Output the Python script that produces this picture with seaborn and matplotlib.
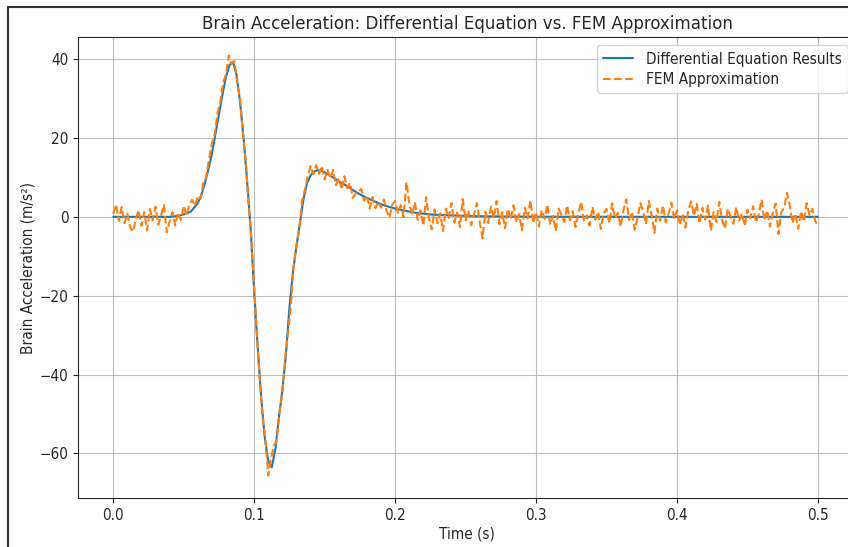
import numpy as np
import pandas as pd
import matplotlib
matplotlib.use("Agg")
import matplotlib.pyplot as plt
from matplotlib.lines import Line2D
import seaborn as sns

# Differential equation (smooth) solution
de_time = [0.000, 0.010, 0.020, 0.030, 0.040, 0.045, 0.050, 0.055, 0.060, 0.0625,
           0.065, 0.0675, 0.070, 0.0725, 0.075, 0.0775, 0.080, 0.0825, 0.085, 0.0875,
           0.090, 0.0925, 0.095, 0.0975, 0.100, 0.1025, 0.105, 0.1075, 0.110, 0.1125,
           0.115, 0.1175, 0.120, 0.1225, 0.125, 0.1275, 0.130, 0.1325, 0.135, 0.1375,
           0.140, 0.1425, 0.145, 0.1475, 0.150, 0.155, 0.160, 0.165, 0.170, 0.175,
           0.180, 0.185, 0.190, 0.195, 0.200, 0.205, 0.210, 0.215, 0.220, 0.225,
           0.230, 0.240, 0.250, 0.260, 0.280, 0.300, 0.350, 0.400, 0.450, 0.500]
de_accel = [0.0, 0.0, 0.0, 0.0, 0.0, 0.2, 0.6, 1.3, 3.5, 5.5,
            8.5, 12.0, 16.0, 21.0, 26.0, 31.0, 35.5, 38.5, 39.3, 36.0,
            29.0, 20.0, 9.0, -3.0, -19.0, -33.0, -46.0, -56.0, -62.0, -63.5,
            -59.0, -51.0, -44.0, -35.0, -23.0, -14.0, -7.5, -1.5, 4.5, 8.5,
            10.5, 11.5, 11.8, 11.7, 11.3, 10.2, 9.0, 8.0, 6.8, 5.7,
            4.8, 4.0, 3.2, 2.6, 2.1, 1.7, 1.3, 1.0, 0.8, 0.6,
            0.5, 0.35, 0.25, 0.15, 0.07, 0.03, 0.01, 0.0, 0.0, 0.0]

# FEM approximation, sampled every 0.002 s
fem_step = 0.002
fem_accel = [
    0.7, 3.1, -1.0, 2.5, -1.6, 0.8, -2.7, -3.8, -0.7, 1.7,
    -2.3, 1.2, -3.4, 2.0, -0.9, 2.6, -2.0, 0.5, 3.0, -3.9,
    -1.2, 1.2, -2.2, 1.1, -0.8, 2.8, 0.3, 3.1, 4.3, 2.8,
    5.3, 4.6, 8.7, 10.2, 14.7, 18.6, 21.0, 26.3, 29.2, 34.1,
    36.1, 40.9, 38.8, 39.5, 33.9, 29.8, 21.0, 14.2, 3.4, -5.5,
    -17.7, -30.8, -41.6, -51.2, -56.6, -65.6, -61.3, -58.0, -56.9, -49.4,
    -44.3, -35.9, -29.4, -22.6, -12.3, -7.1, -3.1, 4.1, 6.8, 10.2,
    12.9, 10.8, 13.1, 10.9, 12.9, 9.5, 11.9, 9.8, 11.9, 8.0,
    9.9, 6.9, 10.3, 7.3, 8.6, 4.8, 5.9, 6.3, 7.1, 4.1,
    5.4, 2.1, 5.0, 2.2, 3.8, 2.3, 4.4, 1.5, -0.2, 3.1,
    4.0, 1.0, 3.0, -0.1, 8.8, 3.6, 0.4, 3.7, -0.8, 1.6,
    -2.2, 5.0, -0.3, -3.2, 1.9, -1.6, 0.9, -3.6, 2.1, -0.3,
    3.5, -1.5, 1.1, -2.6, 4.5, -0.9, 1.6, -2.1, 0.7, 3.5,
    -1.2, -5.5, 1.3, -1.6, 2.6, -0.4, 4.0, -1.9, 1.2, -2.9,
    2.0, -0.7, 2.9, -1.4, 0.7, -3.4, 2.3, -0.4, 4.2, -1.6,
    1.2, -2.5, 1.7, -0.5, 3.1, -2.0, 0.3, -3.6, 2.1, 0.5,
    -1.3, 2.9, -0.9, 1.4, -2.6, 0.8, 3.8, -1.2, 0.4, -2.2,
    2.5, -0.7, 1.3, -3.1, 0.9, 2.0, -1.6, 3.4, -0.4, 1.0,
    -2.5, 1.6, 4.4, -0.8, 1.2, -3.3, -0.3, 3.5, 1.3, -1.8,
    4.0, 0.5, -4.1, 2.1, -1.0, 2.9, -1.4, 0.8, 3.6, -0.5,
    1.7, -2.1, 0.7, -2.7, 1.6, 3.9, 0.3, 3.3, -1.7, 2.3,
    -0.7, 2.9, -3.5, 1.2, -1.3, 3.8, -0.8, -3.0, 2.0, 0.1,
    -1.8, 2.5, -1.0, 0.9, -2.3, 1.8, -0.4, 2.7, -1.4, 0.7,
    4.4, -0.9, 1.6, -2.5, 1.0, 3.4, -4.4, 1.2, 2.2, 6.1,
    3.0, -1.6, 0.8, -3.1, 1.4, -1.2, 3.5, 0.4, 2.0, -1.0,
    -2.4]
fem_time = np.round(np.arange(len(fem_accel)) * fem_step, 3)

title = "Brain Acceleration: Differential Equation vs. FEM Approximation"
xlabel = "Time (s)"
ylabel = "Brain Acceleration (m/s²)"

sns.set_style("white")
plt.rcParams["font.family"] = ["DejaVu Sans"]
plt.rcParams["font.stretch"] = "condensed"
plt.rcParams["text.color"] = "#262626"

W, H = 848, 547
fig = plt.figure(figsize=(W / 100, H / 100), dpi=100)
ax = fig.add_axes([78 / W, 1 - 498 / H, (856 - 78) / W, (498 - 37) / H])

de_df = pd.DataFrame({"t": de_time, "a": de_accel})
fem_df = pd.DataFrame({"t": fem_time, "a": fem_accel})

sns.lineplot(data=de_df, x="t", y="a", ax=ax, color="#1f77b4", linewidth=1.5,
             label="Differential Equation Results", estimator=None, sort=False)
sns.lineplot(data=fem_df, x="t", y="a", ax=ax, color="#ff7f0e", linewidth=1.5,
             linestyle="--", label="FEM Approximation", estimator=None, sort=False)

ax.set_xlim(-0.025, 0.527)
ax.set_ylim(-71.3, 45.6)
ax.set_xticks([0.0, 0.1, 0.2, 0.3, 0.4, 0.5])
ax.set_yticks([-60, -40, -20, 0, 20, 40])
ax.set_xticklabels(["0.0", "0.1", "0.2", "0.3", "0.4", "0.5"])
ax.set_yticklabels(["\u221260", "\u221240", "\u221220", "0", "20", "40"])
ax.grid(True, color="#b0b0b0", linewidth=0.8, alpha=0.8)
for s in ax.spines.values():
    s.set_color("#262626")
    s.set_linewidth(0.8)
ax.spines["right"].set_visible(False)
ax.tick_params(axis="both", which="both", length=3.5, width=0.8, color="#262626",
               labelsize=11, labelcolor="#262626", bottom=True, left=True, pad=3.5)
ax.set_title(title, fontsize=13.3, pad=6)
ax.set_xlabel(xlabel, fontsize=11, labelpad=3)
ax.set_ylabel(ylabel, fontsize=11, labelpad=3)

leg = ax.legend(loc="upper right", fontsize=11, frameon=True, framealpha=0.8,
                edgecolor="#cccccc", fancybox=True, labelspacing=0.35,
                borderaxespad=0.55)

# screenshot frame lines
fig.add_artist(Line2D([8 / W, 8 / W], [0, 1 - 7 / H], transform=fig.transFigure,
                      color="#333333", linewidth=1.5))
fig.add_artist(Line2D([8 / W, 1], [1 - 7 / H, 1 - 7 / H], transform=fig.transFigure,
                      color="#333333", linewidth=1.5))

fig.savefig("out.png", dpi=100)
